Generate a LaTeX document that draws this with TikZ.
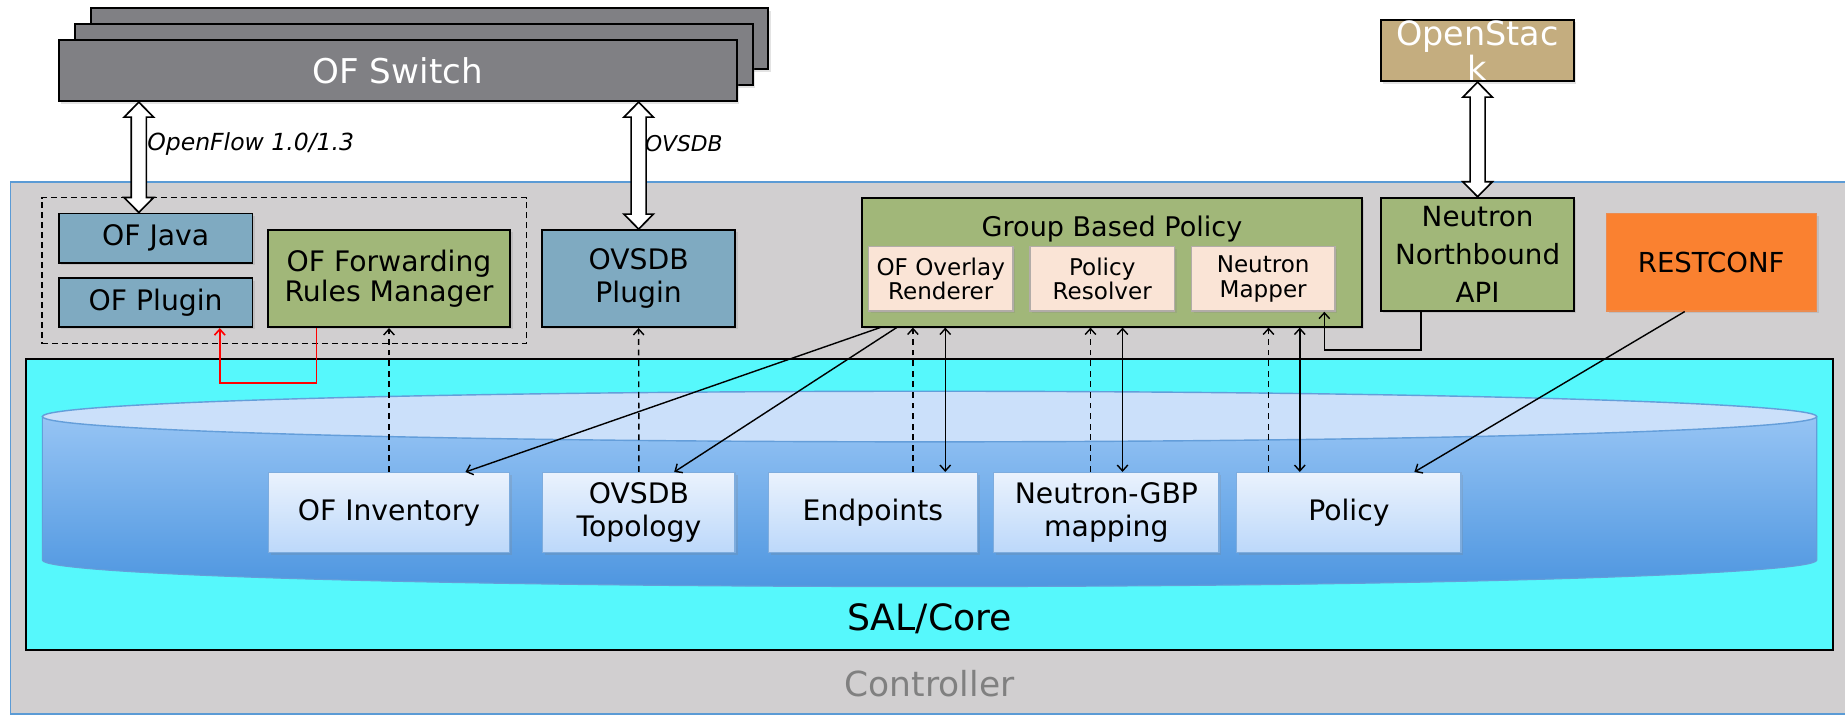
\documentclass[tikz,border=0pt]{standalone}
\usepackage{fontspec}
\setmainfont{DejaVu Sans}
\usetikzlibrary{arrows.meta,calc,shadows}
\definecolor{SwitchGray}{RGB}{128,128,132}
\definecolor{PluginBlue}{RGB}{127,170,193}
\definecolor{AppGreen}{RGB}{161,183,121}
\definecolor{SubPeach}{RGB}{250,228,214}
\definecolor{SubEdge}{RGB}{178,172,168}
\definecolor{RestOrange}{RGB}{250,129,48}
\definecolor{RestEdge}{RGB}{235,140,80}
\definecolor{StackTan}{RGB}{196,173,127}
\definecolor{CtrlGray}{RGB}{209,207,208}
\definecolor{CtrlBlue}{RGB}{91,155,213}
\definecolor{SalCyan}{RGB}{86,248,252}
\definecolor{CylTop}{RGB}{150,196,244}
\definecolor{CylBot}{RGB}{78,150,224}
\definecolor{CylFace}{RGB}{203,224,250}
\definecolor{CylEdge}{RGB}{100,158,218}
\definecolor{StoreTop}{RGB}{234,242,253}
\definecolor{StoreBot}{RGB}{188,216,250}
\definecolor{StoreEdge}{RGB}{125,172,222}
\definecolor{LabelGray}{RGB}{128,128,128}

\tikzset{
  base/.style={draw=black, line width=1.6pt, inner sep=0pt, align=center,
    font=\fontsize{24}{27}\selectfont,
    drop shadow={opacity=0.22, shadow xshift=2pt, shadow yshift=-2pt}},
  switchbox/.style={base, fill=SwitchGray, text=white, font=\fontsize{29}{32}\selectfont},
  stackbox/.style={base, fill=StackTan, text=white, font=\fontsize{28.4}{30}\selectfont},
  plugbox/.style={base, fill=PluginBlue},
  appbox/.style={base, fill=AppGreen},
  subbox/.style={base, draw=SubEdge, line width=1.2pt, fill=SubPeach, font=\fontsize{19.6}{21}\selectfont},
  restbox/.style={base, draw=RestEdge, line width=1pt, fill=RestOrange, font=\fontsize{23.4}{26}\selectfont},
  storebox/.style={base, draw=StoreEdge, line width=1.2pt, top color=StoreTop, bottom color=StoreBot},
  ctrlbox/.style={draw=CtrlBlue, line width=1.5pt, fill=CtrlGray, inner sep=0pt},
  salbox/.style={draw=black, line width=1.6pt, fill=SalCyan, inner sep=0pt},
  groupbox/.style={draw=black, line width=1.3pt, dash pattern=on 5pt off 3.5pt, inner sep=0pt},
  protolbl/.style={inner sep=0pt, anchor=west, font=\itshape\fontsize{20}{22}\selectfont},
  fatarr/.style={draw=black, fill=white, line width=1.4pt, line join=miter},
  link/.style={draw=black, line width=1.2pt, -{Straight Barb[length=5pt,width=9pt]}},
  dlink/.style={link, {Straight Barb[length=5pt,width=9pt]}-{Straight Barb[length=5pt,width=9pt]}},
  dashlink/.style={link, dash pattern=on 5pt off 4pt},
  redlink/.style={link, draw=red, line width=1.4pt},
}

\newcommand{\fatarrow}[2]{%
  \path[fatarr] let \p1=(#1), \p2=(#2) in
    (\x1,\y1) -- (\x1+12.5pt,\y1-12.7pt) -- (\x1+6.4pt,\y1-12.7pt)
    -- (\x1+6.4pt,\y2+12.7pt) -- (\x1+12.5pt,\y2+12.7pt) -- (\x1,\y2)
    -- (\x1-12.5pt,\y2+12.7pt) -- (\x1-6.4pt,\y2+12.7pt)
    -- (\x1-6.4pt,\y1-12.7pt) -- (\x1-12.5pt,\y1-12.7pt) -- cycle;}

\begin{document}
\begin{tikzpicture}[x=1pt,y=-1pt]
\useasboundingbox (0,0) rectangle (1568,613);

%Shape: Rectangle (switch stack)
\node[switchbox, minimum width=576, minimum height=52] (sw3) at (365,33) {};
\node[switchbox, minimum width=576, minimum height=52] (sw2) at (352,46.5) {};
\node[switchbox, minimum width=576, minimum height=52] (sw) at (338,60) {OF Switch};
%Shape: Rectangle
\node[stackbox, minimum width=164, minimum height=52] (ostack) at (1255.75,43) {OpenStac\\k};

%Shape: Rectangle (controller)
\node[ctrlbox, minimum width=1571, minimum height=452.5] (ctrl) at (794.5,380.75) {};
% Text Node
\node[font=\fontsize{29.3}{32}\selectfont, text=LabelGray, inner sep=0pt] (ctrllbl) at (790,581) {Controller};

%Shape: Rectangle (dashed group)
\node[groupbox, minimum width=412, minimum height=124] (ofgrp) at (241.5,230) {};
\node[plugbox, minimum width=164.6, minimum height=41.8] (ofjava) at (132.3,202.3) {OF Java};
\node[plugbox, minimum width=164.6, minimum height=41.4] (ofplugin) at (132.3,257.3) {OF Plugin};
\node[appbox, minimum width=206, minimum height=82.5, font=\fontsize{24}{25.5}\selectfont] (ofr) at (330.6,236.75) {OF Forwarding\\Rules Manager};
\node[plugbox, minimum width=164.5, minimum height=82.5, font=\fontsize{24}{28}\selectfont] (ovsplug) at (542.75,236.75) {OVSDB\\Plugin};

%Shape: Rectangle (group based policy)
\node[appbox, minimum width=424.7, minimum height=109.6] (gbp) at (945,222.8) {};
% Text Node
\node[inner sep=0pt, font=\fontsize{23}{25}\selectfont] (gbptitle) at (945,195) {Group Based Policy};
\node[subbox, minimum width=123, minimum height=54.7] (ofor) at (799.5,237) {OF Overlay\\Renderer};
\node[subbox, minimum width=123, minimum height=54.7] (pres) at (936.75,237) {Policy\\Resolver};
\node[subbox, minimum width=122.3, minimum height=54.7] (nmap) at (1073.5,237) {Neutron\\Mapper};
\node[appbox, minimum width=164, minimum height=96.3, font=\fontsize{23.6}{32}\selectfont] (nnb) at (1255.75,216.15) {Neutron\\Northbound\\API};
\node[restbox, minimum width=178.5, minimum height=83] (rconf) at (1454.25,222.8) {RESTCONF};

%Shape: Rectangle (SAL/Core)
\node[salbox, minimum width=1535, minimum height=247] (sal) at (789.95,428.9) {};
%Shape: Can
\shade[top color=CylTop, bottom color=CylBot] (36,354) -- (36,476) arc[start angle=180, end angle=360, x radius=754pt, y radius=22.5pt] -- (1544,354) -- cycle;
\draw[CylEdge, line width=1pt] (36,354) -- (36,476) arc[start angle=180, end angle=360, x radius=754pt, y radius=22.5pt] -- (1544,354);
\filldraw[fill=CylFace, draw=CylEdge, line width=1.2pt] (790,354) ellipse [x radius=754, y radius=21.5];
% Text Node
\node[inner sep=0pt, font=\fontsize{30.8}{33}\selectfont] (sallbl) at (790,525.5) {SAL/Core};

\node[storebox, minimum width=204.4, minimum height=68] (ofinv) at (330.6,435.7) {OF Inventory};
\node[storebox, minimum width=163.6, minimum height=68, font=\fontsize{24}{28}\selectfont] (ovstopo) at (543,435.7) {OVSDB\\Topology};
\node[storebox, minimum width=177.3, minimum height=68] (endp) at (741.85,435.7) {Endpoints};
\node[storebox, minimum width=191.5, minimum height=68, font=\fontsize{24}{28}\selectfont] (ngbp) at (940.25,435.7) {Neutron-GBP\\mapping};
\node[storebox, minimum width=190.7, minimum height=68] (pol) at (1146.35,435.7) {Policy};

%Double Arrows
\fatarrow{[xshift=-14.3pt]ofjava.north |- sw.south}{[xshift=-14.3pt]ofjava.north}
\fatarrow{ovsplug.north |- sw.south}{ovsplug.north}
\fatarrow{ostack.south}{nnb.north}
% Text Node
\node[protolbl] (oflbl) at (125,122) {OpenFlow 1.0/1.3};
\node[protolbl, font=\itshape\fontsize{18.5}{20}\selectfont] (ovslbl) at (548,122) {OVSDB};

%Straight Lines
\draw[redlink] ([xshift=-61.6pt]ofr.south) -- ++(0,46.5) -| ([xshift=54.5pt]ofplugin.south);
\draw[dashlink] (ofinv.north) -- (ofr.south);
\draw[dashlink] (ovstopo.north) -- (ovsplug.south);
\draw[link] ([xshift=-197pt]gbp.south) -- ([xshift=65pt]ofinv.north);
\draw[link] ([xshift=-183pt]gbp.south) -- ([xshift=30pt]ovstopo.north);
\draw[dashlink] ([xshift=34pt]endp.north) -- ([xshift=34pt]endp.north |- gbp.south);
\draw[dlink] ([xshift=61.5pt]endp.north |- gbp.south) -- ([xshift=61.5pt]endp.north);
\draw[dashlink] ([xshift=-13.5pt]ngbp.north) -- ([xshift=-13.5pt]ngbp.north |- gbp.south);
\draw[dlink] ([xshift=13.75pt]ngbp.north |- gbp.south) -- ([xshift=13.75pt]ngbp.north);
\draw[dashlink] ([xshift=-68.3pt]pol.north) -- ([xshift=-68.3pt]pol.north |- gbp.south);
\draw[dlink] ([xshift=-41.7pt]pol.north |- gbp.south) -- ([xshift=-41.7pt]pol.north);
\draw[link] ([xshift=-48pt]nnb.south) -- ++(0,32.3) -| ([xshift=52pt]nmap.south);
\draw[link] ([xshift=-22.5pt]rconf.south) -- ([xshift=55.7pt]pol.north);

\end{tikzpicture}
\end{document}
